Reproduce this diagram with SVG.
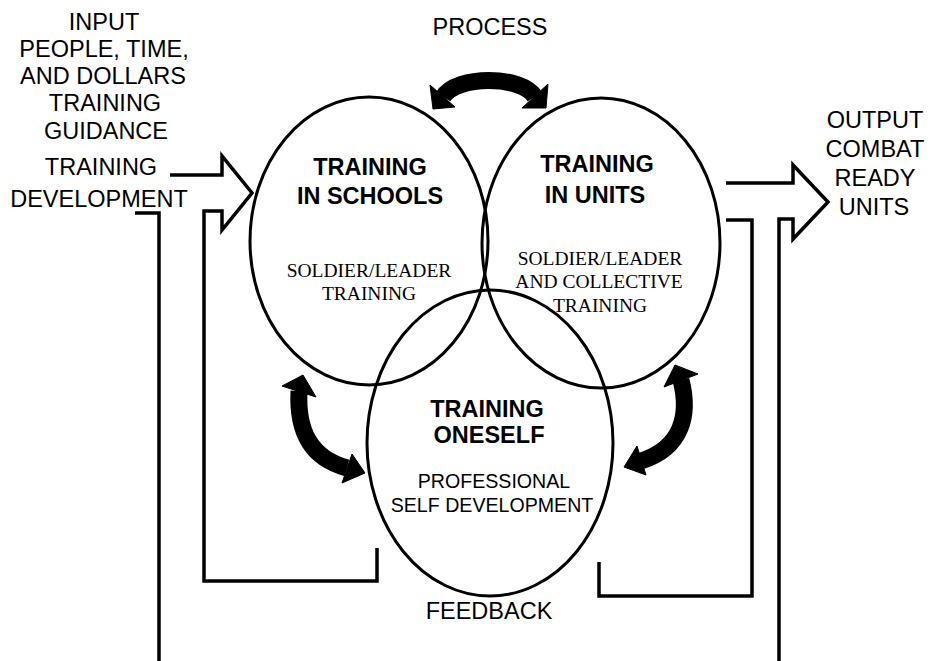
<svg xmlns="http://www.w3.org/2000/svg" width="932" height="661" viewBox="0 0 932 661">
<style>
.ell{fill:none;stroke:#000;stroke-width:3}
.ln{fill:none;stroke:#000;stroke-width:3.5;stroke-linejoin:miter}
.body{fill:none;stroke:#000;stroke-width:17}
.head{fill:#000;stroke:#000;stroke-width:1;stroke-linejoin:round}
.sans{font-family:"Liberation Sans",Arial,sans-serif;font-size:23.5px;fill:#000;text-anchor:middle}
.bold{font-family:"Liberation Sans",Arial,sans-serif;font-size:23.5px;font-weight:bold;fill:#000;text-anchor:middle}
.serif{font-family:"Liberation Serif","Times New Roman",serif;font-size:19.5px;fill:#000;text-anchor:middle}
.small{font-family:"Liberation Sans",Arial,sans-serif;font-size:19.6px;fill:#000;text-anchor:middle}
</style>
<rect width="932" height="661" fill="#fff"/>
<g id="schools">
<ellipse class="ell" cx="369" cy="241" rx="119" ry="144"/>
<text class="bold" x="370" y="175">TRAINING</text>
<text class="bold" x="370" y="204">IN SCHOOLS</text>
<text class="serif" x="369" y="277">SOLDIER/LEADER</text>
<text class="serif" x="369" y="300">TRAINING</text>
</g>
<g id="units">
<ellipse class="ell" cx="601" cy="243" rx="119" ry="145"/>
<text class="bold" x="597" y="172">TRAINING</text>
<text class="bold" x="595" y="203">IN UNITS</text>
<text class="serif" x="600" y="265">SOLDIER/LEADER</text>
<text class="serif" x="599" y="288">AND COLLECTIVE</text>
<text class="serif" x="600" y="312">TRAINING</text>
</g>
<g id="oneself">
<ellipse class="ell" cx="490" cy="443" rx="123" ry="153"/>
<text class="bold" x="487" y="417">TRAINING</text>
<text class="bold" x="489" y="443">ONESELF</text>
<text class="small" x="494" y="488">PROFESSIONAL</text>
<text class="small" x="492" y="512">SELF DEVELOPMENT</text>
</g>
<g id="input">
<text class="sans" x="104" y="30">INPUT</text>
<text class="sans" x="104" y="57">PEOPLE, TIME,</text>
<text class="sans" x="103" y="84">AND DOLLARS</text>
<text class="sans" x="105" y="111">TRAINING</text>
<text class="sans" x="106" y="139">GUIDANCE</text>
<text class="sans" x="101" y="175">TRAINING</text>
<text class="sans" x="99" y="207">DEVELOPMENT</text>
</g>
<g id="output">
<text class="sans" x="875" y="128">OUTPUT</text>
<text class="sans" x="875" y="157">COMBAT</text>
<text class="sans" x="875" y="186">READY</text>
<text class="sans" x="874" y="215">UNITS</text>
</g>
<g id="process-label">
<text class="sans" x="490" y="35">PROCESS</text>
</g>
<g id="feedback-label">
<text class="sans" x="489" y="619">FEEDBACK</text>
</g>
<g id="connectors">
<path class="ln" d="M170,175 H222 V156 L252,193 L222,230 V211 H204 V581 H377 V548"/>
<path class="ln" d="M135,213 H159 V661"/>
<path class="ln" d="M726,183 H793 V165 L828,202 L793,239 V219 H779 V661"/>
<path class="ln" d="M726,220 H752 V596 H599 V562"/>
<path class="body" d="M443,97 C456,75 522,75 535,97"/>
<polygon class="head" points="430,85 455,107 433,109"/>
<polygon class="head" points="548,84 522,108 546,108"/>
<path class="body" d="M299,391 C297,430 310,458 347,468"/>
<polygon class="head" points="282,386 316,397 303,375"/>
<polygon class="head" points="352,454 342,483 365,473"/>
<path class="body" d="M681,380 C690,415 682,448 641,461"/>
<polygon class="head" points="664,387 698,374 675,365"/>
<polygon class="head" points="637,446 646,475 624,467"/>
</g>
</svg>
